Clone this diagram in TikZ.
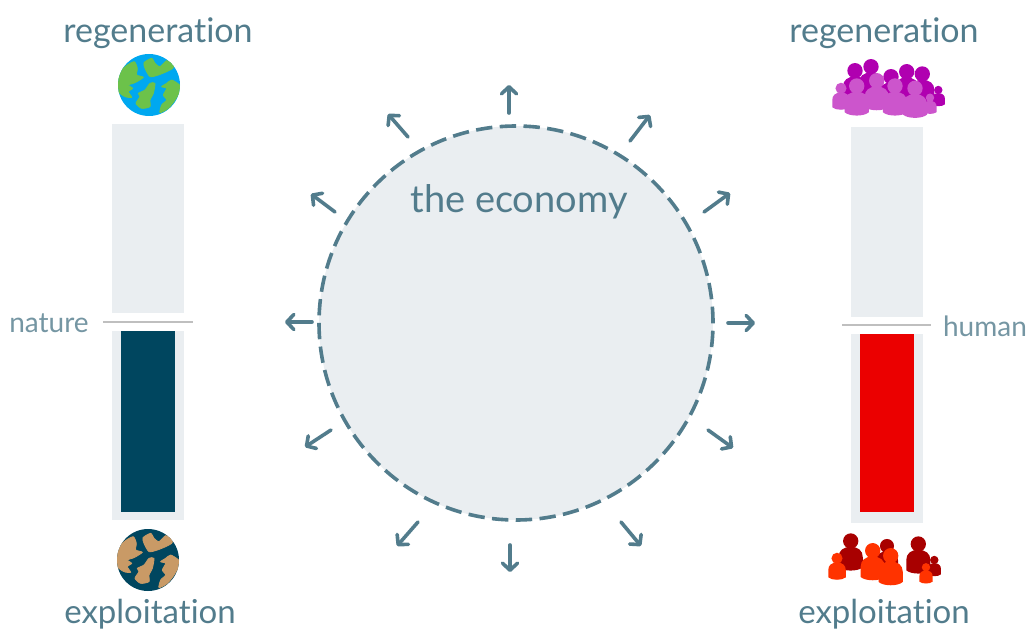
\documentclass[tikz,border=0pt]{standalone}
\usepackage{fontspec}
\setmainfont{Lato}[Ligatures=CommonOff]
\usetikzlibrary{arrows.meta}
\definecolor{slate}{HTML}{527C8C}
\definecolor{pale}{HTML}{EAEEF1}
\definecolor{deep}{HTML}{00465F}
\definecolor{tan}{HTML}{C99A66}
\definecolor{sea}{HTML}{00A8F0}
\definecolor{leaf}{HTML}{6CC24A}
\definecolor{magdark}{HTML}{B000B0}
\definecolor{maglight}{HTML}{CC55CC}
\definecolor{reddark}{HTML}{A80000}
\definecolor{redlight}{HTML}{FF3300}
\tikzset{
  bigtext/.style={text=slate, font=\fontsize{34}{34}\selectfont, inner sep=0pt},
  lowtext/.style={text=slate, font=\fontsize{33}{33}\selectfont, inner sep=0pt},
  sidetext/.style={text=slate!80, font=\fontsize{28}{28}\selectfont, inner sep=0pt},
  barback/.style={fill=pale, draw=none},
  divider/.style={draw=black!25, line width=2pt},
  outarrow/.style={draw=slate, line width=3.6pt, line cap=round, -{Straight Barb[length=7pt,width=15pt,round]}},
  pics/person/.style={code={
    \fill[pic actions] (0,0) circle (1.05);
    \fill[pic actions] (-1.65,3.6) -- (-1.65,2.2) .. controls (-1.65,1.3) and (-1,0.8) .. (0,0.8)
      .. controls (1,0.8) and (1.65,1.3) .. (1.65,2.2) -- (1.65,3.6)
      .. controls (1,4.2) and (-1,4.2) .. (-1.65,3.6) -- cycle;
  }},
  pics/globe/.style 2 args={code={
    \fill[#1] (0,0) circle (31);
    \begin{scope}[scale=0.3333]
      \clip (0,0) circle (93);
      \filldraw[#2, line width=0.8pt] plot[smooth cycle, tension=0.4] coordinates {(-96,-5) (-77,-50) (-45,-70) (-35,-50) (-37,-30) (-17,-23) (-42,-7) (-62,0) (-49,10) (-62,20) (-52,37) (-72,35) (-92,20)};
      \filldraw[#2, line width=0.8pt] plot[smooth cycle, tension=0.4] coordinates {(-15,-67) (8,-80) (18,-65) (33,-55) (53,-73) (73,-60) (71,-50) (53,-40) (28,-30) (3,-25) (-12,-50)};
      \filldraw[#2, line width=0.8pt] plot[smooth cycle, tension=0.4] coordinates {(3,-5) (18,-5) (13,25) (3,45) (3,65) (-22,70) (-39,55) (-27,35) (-32,25) (-12,15)};
      \filldraw[#2, line width=0.8pt] plot[smooth cycle, tension=0.4] coordinates {(68,-15) (92,0) (95,15) (78,45) (58,70) (33,83) (38,60) (53,45) (43,30) (53,10) (38,5) (53,-5)};
    \end{scope}
  }}
}
\begin{document}
\begin{tikzpicture}[x=1pt, y=-1pt]
  \useasboundingbox (0,0) rectangle (1030,631);

  \node[circle, minimum size=394pt, inner sep=0pt, fill=pale, draw=slate, line width=3.6pt, dash pattern=on 16.4pt off 7.4pt] (economy) at (516,323) {};
  \node[bigtext, font=\fontsize{38}{38}\selectfont] (economylabel) at (519,202) {the economy};

  \foreach \i/\ax/\ay/\bx/\by in {1/509/113/509/85, 2/408/137/388/114, 3/335/212/311/194, 4/312/322/285/322,
    5/331/430/305/447, 6/418/522/397/546, 7/510/545/510/572, 8/621/522/641/546,
    9/708/430/733/448, 10/728/323/755/323, 11/704/212/730/193, 12/630/141/650/115}
  {
  \coordinate (from\i) at (\ax,\ay);
  \coordinate (to\i) at (\bx,\by);
  \draw[outarrow] (from\i) -- (to\i);
  }

  \fill[barback] (112,124) rectangle (184,313);
  \fill[barback] (112,331) rectangle (184,520);
  \fill[deep] (121,331) rectangle (175,512);
  \coordinate (natureleft) at (103,322);
  \coordinate (natureright) at (193,322);
  \draw[divider] (natureleft) -- (natureright);

  \fill[barback] (851,127) rectangle (923,317);
  \fill[barback] (851,334) rectangle (923,523);
  \fill[red!92!black] (860,334) rectangle (914,512);
  \coordinate (humanleft) at (842,325);
  \coordinate (humanright) at (931,325);
  \draw[divider] (humanleft) -- (humanright);

  \node[bigtext] (regenleft) at (158,33) {regeneration};
  \node[bigtext] (regenright) at (884,33) {regeneration};
  \node[lowtext] (exploitleft) at (150,614) {exploitation};
  \node[lowtext] (exploitright) at (884,614) {exploitation};
  \node[sidetext] (nature) at (49,323) {nature};
  \node[sidetext] (human) at (985,326) {human};

  \pic at (149,85) {globe={sea}{leaf}};
  \pic at (148,560) {globe={deep}{tan}};

  \foreach \x/\y/\r in {855/70.7/7.3, 871/66.7/7.3, 891/76.7/7.3, 906.7/71.7/7.3, 922.3/74/7.3, 938.3/90/4}
  {
  \pic[fill=magdark, scale=\r] at (\x,\y) {person};
  }
  \foreach \x/\y/\r in {841/88.3/5.3, 856.7/86/7.3, 876.7/80.7/7.3, 895/86/7.3, 915/88.3/7.3, 930/97.7/4}
  {
  \pic[fill=maglight, scale=\r] at (\x,\y) {person};
  }
  \foreach \x/\y/\r in {850.7/541/7.3, 887/546/6.7, 918.3/544/7.3, 934.3/560/4}
  {
  \pic[fill=reddark, scale=\r] at (\x,\y) {person};
  }
  \foreach \x/\y/\r in {837/558.3/5.3, 872.7/550.7/7.3, 890.7/555.7/7.3, 926/567.3/4}
  {
  \pic[fill=redlight, scale=\r] at (\x,\y) {person};
  }
\end{tikzpicture}
\end{document}
